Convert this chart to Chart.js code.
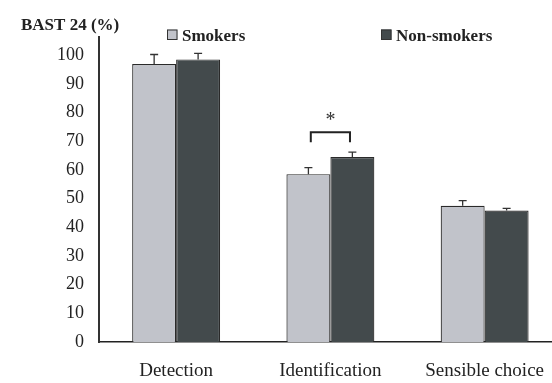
<!DOCTYPE html>
<html>
<head>
<meta charset="utf-8">
<script src="https://cdn.jsdelivr.net/npm/chart.js@4"></script>
<style>
  html, body { margin: 0; padding: 0; background: #fff; overflow: hidden; }
  #wrap { width: 562px; height: 383px; }
</style>
</head>
<body>
<div id="wrap"><canvas id="c" width="562" height="383"></canvas></div>
<script>
// BAST 24 scores (%) by group
const categories = ['Detection', 'Identification', 'Sensible choice'];
const smokers = [96.9, 58.5, 47.5];
const nonSmokers = [98.5, 64.5, 45.8];
// upper error bar ends
const smokersErr = [100.2, 60.8, 49.3];
const nonSmokersErr = [100.6, 66.2, 46.6];
const yTicks = [0, 10, 20, 30, 40, 50, 60, 70, 80, 90, 100];
// significance marker over Identification
const sigCategory = 1;
const sigBracket = [69.6, 73.1];
const sigStar = 78.5;

const SERIF = '"Liberation Serif", "Times New Roman", serif';

const errorBars = {
  id: 'errorBars',
  afterDatasetsDraw(chart) {
    const ctx = chart.ctx;
    const y = chart.scales.y;
    const errs = [smokersErr, nonSmokersErr];
    ctx.save();
    ctx.strokeStyle = '#333';
    ctx.lineWidth = 1.3;
    chart.data.datasets.forEach((ds, i) => {
      const meta = chart.getDatasetMeta(i);
      meta.data.forEach((bar, j) => {
        const top = y.getPixelForValue(ds.data[j]);
        const cap = y.getPixelForValue(errs[i][j]);
        ctx.beginPath();
        ctx.moveTo(bar.x, top);
        ctx.lineTo(bar.x, cap);
        ctx.moveTo(bar.x - 4, cap);
        ctx.lineTo(bar.x + 4, cap);
        ctx.stroke();
      });
    });
    // significance bracket
    const x = chart.scales.x;
    const cx = x.getPixelForValue(sigCategory);
    const step = x.getPixelForValue(1) - x.getPixelForValue(0);
    const dx = step * 0.127;
    const yl = y.getPixelForValue(sigBracket[0]);
    const yt = y.getPixelForValue(sigBracket[1]);
    ctx.strokeStyle = '#222';
    ctx.lineWidth = 2;
    ctx.beginPath();
    ctx.moveTo(cx - dx, yl);
    ctx.lineTo(cx - dx, yt);
    ctx.lineTo(cx + dx, yt);
    ctx.lineTo(cx + dx, yl);
    ctx.stroke();
    ctx.fillStyle = '#333';
    ctx.font = '20px ' + SERIF;
    ctx.textAlign = 'center';
    ctx.textBaseline = 'middle';
    ctx.fillText('*', cx, y.getPixelForValue(sigStar) + 4);
    ctx.restore();
  }
};

const headings = {
  id: 'headings',
  afterDraw(chart) {
    const ctx = chart.ctx;
    ctx.save();
    ctx.fillStyle = '#222';
    ctx.font = 'bold 17px ' + SERIF;
    ctx.textBaseline = 'alphabetic';
    ctx.textAlign = 'left';
    ctx.fillText('BAST 24 (%)', 21, 30);
    // legend
    const items = [[167, 0], [381, 1]];
    items.forEach(([lx, i]) => {
      const ds = chart.data.datasets[i];
      ctx.fillStyle = ds.backgroundColor;
      ctx.fillRect(lx, 29.5, 10.5, 10.5);
      ctx.strokeStyle = '#333';
      ctx.lineWidth = 1;
      ctx.strokeRect(lx + 0.5, 30, 9.5, 9.5);
      ctx.fillStyle = '#222';
      ctx.font = 'bold 17px ' + SERIF;
      ctx.fillText(ds.label, lx + 15, 41);
    });
    ctx.restore();
  }
};

new Chart(document.getElementById('c'), {
  type: 'bar',
  data: {
    labels: categories,
    datasets: [
      { label: 'Smokers', data: smokers, backgroundColor: '#c1c3ca', borderColor: '#2a2a2a', borderWidth: 1.2 },
      { label: 'Non-smokers', data: nonSmokers, backgroundColor: '#434a4c', borderColor: '#2a2a2a', borderWidth: 1.2 }
    ]
  },
  options: {
    responsive: false,
    animation: false,
    layout: { padding: { top: 37, left: 0, right: 0, bottom: 0 } },
    plugins: { legend: { display: false }, tooltip: { enabled: false } },
    datasets: { bar: { barPercentage: 1, categoryPercentage: 0.57 } },
    scales: {
      x: {
        grid: { display: false, drawTicks: false },
        border: { color: '#222', width: 1.5 },
        ticks: { color: '#222', font: { family: SERIF, size: 19 }, padding: 18 },
        afterFit(s) { s.height = 41; }
      },
      y: {
        min: 0, max: 106.3,
        afterBuildTicks(s) { s.ticks = yTicks.map(v => ({ value: v })); },
        grid: { display: false, drawOnChartArea: false, drawTicks: true, tickLength: 7, tickColor: '#444', tickWidth: 1.3 },
        border: { color: '#333', width: 2 },
        ticks: { color: '#222', font: { family: SERIF, size: 18 }, padding: 8 },
        afterFit(s) { s.width = 99; }
      }
    }
  },
  plugins: [errorBars, headings]
});
</script>
</body>
</html>
